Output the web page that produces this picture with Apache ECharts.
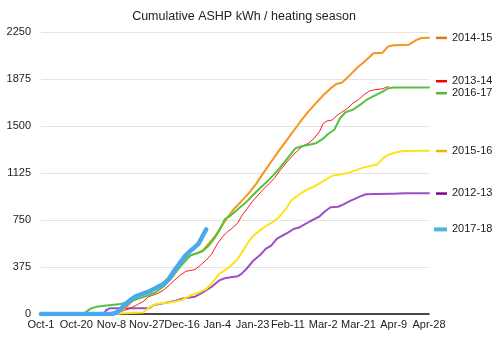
<!DOCTYPE html>
<html>
<head>
<meta charset="utf-8">
<script src="https://cdn.jsdelivr.net/npm/echarts@6/dist/echarts.min.js"></script>
<style>
  html, body { margin: 0; padding: 0; background: #fff; }
  #chart { width: 498px; height: 340px; }
</style>
</head>
<body>
<div id="chart"></div>
<script>
// Day 0 = Oct-1; tick every 19 days
var tickLabels = ['Oct-1', 'Oct-20', 'Nov-8', 'Nov-27', 'Dec-16', 'Jan-4', 'Jan-23', 'Feb-11', 'Mar-2', 'Mar-21', 'Apr-9', 'Apr-28'];

// Cumulative kWh, [day, kWh]
var s2012 = [[0,0],[34,0],[35,30],[37,45],[58,45],[61,72],[66,85],[72,104],[77,125],[83,138],[86,162],[89,190],[92,218],[96,268],[99,285],[103,295],[106,302],[108,320],[111,365],[114,420],[118,470],[121,520],[124,545],[127,600],[130,625],[133,650],[136,678],[139,690],[142,715],[145,740],[148,763],[150,778],[153,820],[156,852],[160,856],[163,875],[166,898],[169,918],[172,938],[175,955],[180,958],[190,960],[196,963],[209,963]];
var s2013 = [[0,0],[38,0],[41,10],[45,30],[48,45],[52,75],[55,100],[58,138],[63,165],[66,190],[69,230],[72,271],[75,310],[78,340],[83,355],[86,390],[89,430],[92,480],[95,560],[98,620],[100,650],[103,685],[106,725],[108,780],[111,840],[114,900],[117,950],[120,1000],[123,1040],[126,1090],[129,1150],[132,1205],[135,1255],[138,1300],[141,1340],[144,1362],[147,1400],[150,1455],[152,1520],[154,1540],[157,1548],[159,1580],[162,1610],[165,1640],[168,1681],[171,1710],[174,1750],[177,1780],[180,1790],[184,1797],[187,1815]];
var s2014 = [[0,0],[38,0],[40,5],[44,30],[48,85],[51,125],[55,160],[59,185],[63,215],[67,262],[70,320],[73,370],[76,420],[79,460],[83,480],[87,505],[90,555],[94,625],[97,695],[100,760],[104,840],[108,900],[112,965],[116,1040],[120,1130],[124,1215],[128,1300],[132,1380],[136,1460],[140,1540],[144,1615],[148,1680],[152,1745],[156,1800],[159,1835],[162,1845],[166,1900],[170,1960],[174,2010],[177,2050],[179,2080],[184,2085],[187,2135],[190,2145],[198,2148],[202,2185],[205,2202],[209,2205]];
var s2015 = [[0,0],[40,0],[44,5],[55,12],[59,60],[62,80],[66,88],[71,95],[76,112],[81,152],[86,178],[89,200],[92,245],[96,320],[100,360],[103,395],[106,440],[109,510],[112,580],[114,620],[117,655],[121,700],[125,735],[128,770],[130,805],[132,840],[135,910],[140,963],[143,990],[147,1016],[150,1043],[153,1068],[157,1104],[162,1115],[166,1128],[170,1150],[174,1170],[178,1183],[181,1192],[184,1240],[187,1270],[190,1285],[195,1300],[209,1302]];
var s2016 = [[0,0],[23,0],[25,25],[27,45],[30,58],[34,65],[38,72],[43,80],[48,100],[53,125],[58,150],[62,175],[66,220],[70,280],[73,340],[76,395],[79,445],[81,471],[84,485],[87,500],[90,540],[93,595],[96,665],[99,755],[102,785],[106,835],[110,885],[114,945],[118,1005],[122,1060],[126,1120],[130,1190],[134,1265],[137,1322],[141,1340],[145,1352],[148,1362],[152,1400],[155,1440],[158,1470],[161,1560],[164,1610],[168,1630],[172,1670],[176,1715],[180,1745],[184,1775],[187,1801],[190,1808],[209,1808]];
var s2017 = [[0,0],[38,0],[40,8],[42,25],[45,72],[48,110],[51,140],[55,162],[58,178],[63,218],[66,240],[69,280],[72,351],[76,432],[78,470],[81,511],[83,535],[85,564],[87,620],[89,675]];

var seasons = [
  { name: '2012-13', data: s2012, color: '#9b50c4', key: '#7a0a86', width: 2 },
  { name: '2013-14', data: s2013, color: '#ff1a1a', key: '#ff0000', width: 1 },
  { name: '2014-15', data: s2014, color: '#f7941d', key: '#d9790b', width: 2 },
  { name: '2015-16', data: s2015, color: '#ffe31a', key: '#e6b800', width: 2 },
  { name: '2016-17', data: s2016, color: '#55c23f', key: '#5cb335', width: 2 },
  { name: '2017-18', data: s2017, color: '#4aa9ee', key: '#55b3e0', width: 4.5 }
];

var FONT = '"Liberation Sans", Arial, Helvetica, sans-serif';
var chart = echarts.init(document.getElementById('chart'), null, { renderer: 'canvas' });

chart.setOption({
  animation: false,
  backgroundColor: '#fff',
  title: {
    text: 'Cumulative ASHP kWh / heating season',
    left: 239, top: 5, textAlign: 'center',
    textStyle: { fontFamily: FONT, fontSize: 12.5, fontWeight: 'normal', color: '#222' }
  },
  grid: { left: 41, right: 69, top: 32, bottom: 26, containLabel: false },
  xAxis: {
    type: 'value', min: 0, max: 209, interval: 19,
    axisLine: { show: true, lineStyle: { color: '#111', width: 1.5 } },
    axisTick: { show: false },
    splitLine: { show: false },
    axisLabel: {
      color: '#222', fontFamily: FONT, fontSize: 11, margin: 5,
      formatter: function (v) { return tickLabels[Math.round(v / 19)] || ''; }
    }
  },
  yAxis: {
    type: 'value', min: 0, max: 2250, interval: 375,
    axisLine: { show: false },
    axisTick: { show: false },
    splitLine: { lineStyle: { color: '#e4e4e4', width: 1 } },
    axisLabel: {
      color: '#222', fontFamily: FONT, fontSize: 11, margin: 10,
      formatter: function (v) { return String(v); }
    }
  },
  series: seasons.map(function (s) {
    return {
      name: s.name, type: 'line', data: s.data,
      showSymbol: false, smooth: false,
      lineStyle: { color: s.color, width: s.width, cap: 'round', join: 'round' },
      itemStyle: { color: s.color },
      z: s.name === '2017-18' ? 5 : 2
    };
  })
});

// Right-hand key: each entry sits at its season's final total, nudged apart when crowded
function drawKey() {
  var entries = seasons.map(function (s) {
    var last = s.data[s.data.length - 1][1];
    return { s: s, y: chart.convertToPixel({ gridIndex: 0 }, [0, last])[1] };
  });
  entries.sort(function (a, b) { return a.y - b.y; });
  var gap = 12;
  for (var it = 0; it < 50; it++) {
    for (var i = 1; i < entries.length; i++) {
      var d = entries[i].y - entries[i - 1].y;
      if (d < gap) {
        var push = (gap - d) / 2;
        entries[i - 1].y -= push;
        entries[i].y += push;
      }
    }
  }
  var els = [];
  entries.forEach(function (e) {
    var thick = e.s.name === '2017-18';
    els.push({
      type: 'rect',
      shape: { x: thick ? 434 : 436, y: e.y - (thick ? 2 : 1), width: thick ? 13 : 11, height: thick ? 4 : 2.5 },
      style: { fill: e.s.key }
    });
    els.push({
      type: 'text', x: 452, y: e.y,
      style: { text: e.s.name, fill: '#222', font: '11px ' + FONT, textVerticalAlign: 'middle', verticalAlign: 'middle' }
    });
  });
  chart.setOption({ graphic: { elements: els } });
}
drawKey();
</script>
</body>
</html>
